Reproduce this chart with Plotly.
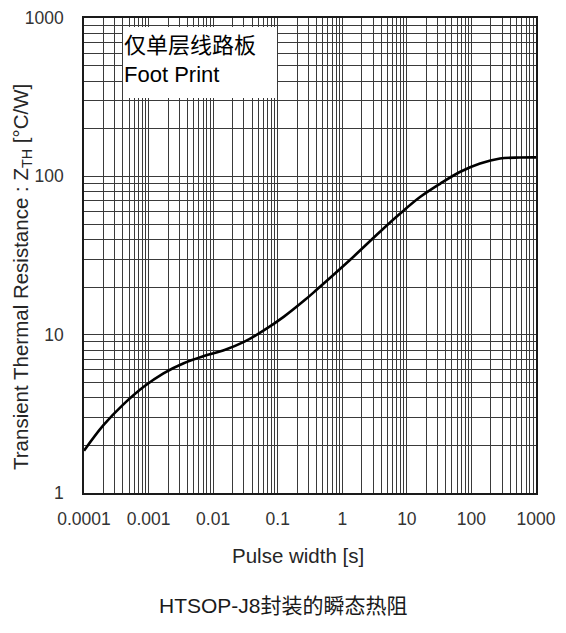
import plotly.graph_objects as go

# Data
pulse_width_s = [1e-4, 2e-4, 4e-4, 8.5e-4, 1.7e-3, 3.5e-3, 7e-3, 0.015, 0.03, 0.06,
                 0.125, 0.265, 0.4, 1.3, 3.8, 7.8, 16, 33, 66, 136, 277, 565, 1000]
zth_c_per_w = [1.85, 2.68, 3.6, 4.7, 5.7, 6.6, 7.3, 8.0, 9.0, 10.6,
               13.0, 16.6, 19.2, 29.5, 44.5, 58, 74, 90, 106.5, 120.5, 129.5, 131.5, 131.8]

x_major = [1e-4, 1e-3, 1e-2, 1e-1, 1, 10, 100, 1000]
x_labels = ["0.0001", "0.001", "0.01", "0.1", "1", "10", "100", "1000"]
y_major = [1, 10, 100, 1000]
y_labels = ["1", "10", "100", "1000"]
minor_mult = [2, 3, 4, 5, 6, 7, 8, 9]

box_lines = ["仅单层线路板", "Foot Print"]
x_title = "Pulse width [s]"
y_title = "Transient Thermal Resistance : Z<sub>TH</sub> [°C/W]"
caption = "HTSOP-J8封装的瞬态热阻"


def minor_vals(majors):
    return [m * k for m in majors[:-1] for k in minor_mult]


FONT = "Liberation Sans, Arial, Noto Sans CJK SC, sans-serif"
GRID = "#3a3a3a"

fig = go.Figure()
fig.add_trace(go.Scatter(
    x=pulse_width_s, y=zth_c_per_w, mode="lines",
    line=dict(color="black", width=2.6, shape="spline", smoothing=1.0),
    showlegend=False, hoverinfo="x+y",
))

W, H = 566, 633
L, R, T, B = 84, 30, 18, 140

axis_common = dict(
    type="log", tickmode="array",
    showgrid=True, gridcolor=GRID, gridwidth=1,
    showline=True, linecolor="#1a1a1a", linewidth=1.5, mirror=True,
    ticks="", zeroline=False, automargin=False,
    tickfont=dict(size=17.5, color="#333333"),
)

fig.update_layout(
    width=W, height=H,
    margin=dict(l=L, r=R, t=T, b=B, autoexpand=False),
    paper_bgcolor="white", plot_bgcolor="white",
    font=dict(family=FONT, color="#262626"),
    xaxis=dict(axis_common, range=[-4, 3], tickvals=x_major, ticktext=x_labels,
               ticklabelstandoff=9,
               minor=dict(tickmode="array", tickvals=minor_vals(x_major), ticks="",
                          showgrid=True, gridcolor=GRID, gridwidth=1)),
    yaxis=dict(axis_common, range=[0, 3], tickvals=y_major, ticktext=y_labels,
               ticklabelstandoff=15,
               minor=dict(tickmode="array", tickvals=minor_vals(y_major), ticks="",
                          showgrid=True, gridcolor=GRID, gridwidth=1)),
)

pw = W - L - R
ph = H - T - B

def px_x(p):
    return (p - L) / pw

def px_y(p):
    return (H - B - p) / ph

# white label box over the grid
fig.add_shape(type="rect", xref="paper", yref="paper",
              x0=px_x(123), x1=px_x(277), y0=px_y(98), y1=px_y(27),
              fillcolor="white", line=dict(width=0), layer="above")
fig.add_annotation(xref="paper", yref="paper", x=px_x(122), y=px_y(31),
                   xanchor="left", yanchor="top", align="left", showarrow=False,
                   text="<br>".join(box_lines),
                   font=dict(size=22, color="black", family=FONT))

# axis titles
fig.add_annotation(xref="paper", yref="paper", x=px_x(298), y=px_y(555),
                   xanchor="center", yanchor="middle", showarrow=False,
                   text=x_title, font=dict(size=20.5, color="#262626", family=FONT))
fig.add_annotation(xref="paper", yref="paper", x=px_x(22), y=px_y(277),
                   xanchor="center", yanchor="middle", showarrow=False, textangle=-90,
                   text=y_title, font=dict(size=20.5, color="#262626", family=FONT))

# caption
fig.add_annotation(xref="paper", yref="paper", x=px_x(283), y=px_y(605),
                   xanchor="center", yanchor="middle", showarrow=False,
                   text=caption, font=dict(size=21, color="#1a1a1a", family=FONT))

fig.write_html("out.html", config={"displayModeBar": False},
               post_script="document.body.style.margin='0';document.body.style.overflow='hidden';")
